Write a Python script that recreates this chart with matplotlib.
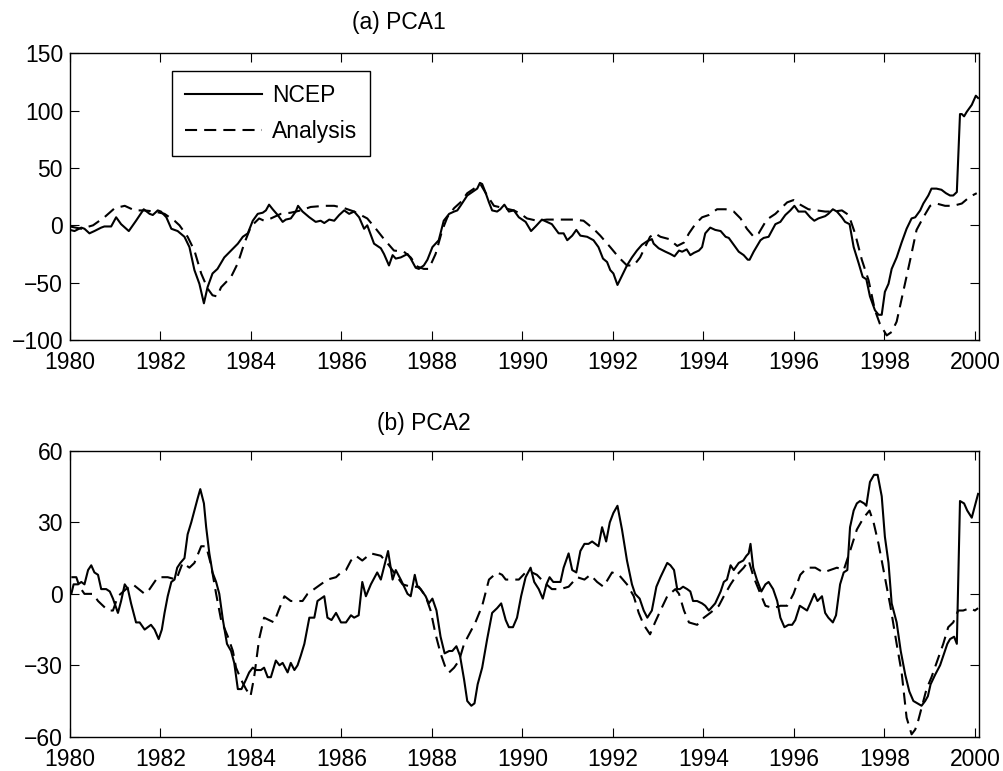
import numpy as np
import matplotlib
matplotlib.use("Agg")
import matplotlib.pyplot as plt

# ---- data (decimal year, value) ----
# (a) PCA1, NCEP (solid)
yr_a_ncep = [1980.00, 1980.10, 1980.25, 1980.32, 1980.43, 1980.54, 1980.69, 1980.76, 1980.91,
             1981.02, 1981.13, 1981.30, 1981.46, 1981.63, 1981.76, 1981.83, 1981.94, 1982.01,
             1982.13, 1982.24, 1982.38, 1982.53, 1982.64, 1982.75, 1982.86, 1982.96, 1983.04,
             1983.15, 1983.26, 1983.41, 1983.56, 1983.71, 1983.82, 1983.93, 1984.04, 1984.15,
             1984.26, 1984.33, 1984.40, 1984.48, 1984.59, 1984.70, 1984.77, 1984.88, 1984.99,
             1985.04, 1985.14, 1985.29, 1985.43, 1985.54, 1985.62, 1985.73, 1985.84, 1985.95,
             1986.06, 1986.17, 1986.28, 1986.39, 1986.50, 1986.57, 1986.72, 1986.87, 1986.94,
             1987.05, 1987.13, 1987.20, 1987.31, 1987.46, 1987.53, 1987.64, 1987.71, 1987.82,
             1987.90, 1988.01, 1988.15, 1988.26, 1988.38, 1988.49, 1988.56, 1988.63, 1988.78,
             1988.89, 1989.00, 1989.06, 1989.11, 1989.18, 1989.26, 1989.33, 1989.44, 1989.51,
             1989.60, 1989.70, 1989.81, 1989.92, 1990.07, 1990.19, 1990.29, 1990.43, 1990.54,
             1990.65, 1990.80, 1990.91, 1990.99, 1991.10, 1991.19, 1991.28, 1991.43, 1991.57,
             1991.68, 1991.78, 1991.87, 1991.94, 1992.01, 1992.10, 1992.20, 1992.31, 1992.42,
             1992.53, 1992.64, 1992.75, 1992.86, 1992.90, 1993.01, 1993.16, 1993.27, 1993.36,
             1993.46, 1993.53, 1993.63, 1993.71, 1993.79, 1993.90, 1993.97, 1994.04, 1994.15,
             1994.26, 1994.38, 1994.49, 1994.56, 1994.67, 1994.78, 1994.89, 1994.98, 1995.02,
             1995.11, 1995.26, 1995.33, 1995.44, 1995.59, 1995.70, 1995.81, 1995.92, 1996.01,
             1996.10, 1996.25, 1996.36, 1996.45, 1996.54, 1996.69, 1996.76, 1996.86, 1996.95,
             1997.06, 1997.13, 1997.23, 1997.32, 1997.43, 1997.52, 1997.60, 1997.68, 1997.79,
             1997.87, 1997.94, 1998.01, 1998.09, 1998.16, 1998.27, 1998.38, 1998.49, 1998.60,
             1998.68, 1998.79, 1998.86, 1998.97, 1999.04, 1999.15, 1999.26, 1999.36, 1999.45,
             1999.52, 1999.60, 1999.67, 1999.71, 1999.76, 1999.82, 1999.93, 2000.02, 2000.07]
pca1_ncep = [-4, -5, -2, -3, -7, -5, -2, -1, -1,
             7, 1, -5, 4, 14, 10, 9, 13, 12,
             7, -3, -5, -10, -19, -39, -51, -68, -54,
             -42, -38, -28, -22, -16, -10, -7, 4, 10,
             11, 13, 18, 14, 9, 3, 5, 6, 12,
             17, 12, 7, 3, 4, 2, 5, 4, 9,
             13, 10, 12, 7, -3, 0, -16, -20, -25,
             -35, -26, -29, -28, -25, -29, -37, -38, -35,
             -30, -19, -13, 4, 10, 12, 13, 17, 26,
             29, 32, 37, 36, 29, 20, 13, 12, 14,
             18, 12, 13, 7, 3, -5, -1, 5, 3,
             1, -7, -7, -13, -9, -4, -9, -10, -13,
             -19, -29, -32, -39, -42, -52, -44, -35, -28,
             -22, -17, -14, -12, -16, -20, -23, -25, -27,
             -22, -23, -21, -26, -24, -22, -19, -7, -2,
             -4, -5, -10, -11, -17, -23, -26, -30, -30,
             -23, -13, -11, -10, 1, 3, 9, 13, 17,
             12, 12, 7, 4, 6, 8, 10, 14, 12,
             7, 3, 1, -19, -33, -45, -47, -62, -74,
             -78, -78, -58, -51, -38, -28, -15, -3, 6,
             7, 13, 19, 26, 32, 32, 31, 28, 26,
             26, 29, 97, 97, 95, 99, 105, 113, 111]

# (a) PCA1, Analysis (dashed)
yr_a_ana = [1980.00, 1980.25, 1980.51, 1980.76, 1980.99, 1981.21, 1981.43, 1981.65, 1981.87,
            1982.09, 1982.31, 1982.42, 1982.60, 1982.75, 1982.90, 1983.04, 1983.15, 1983.25,
            1983.34, 1983.56, 1983.71, 1983.85, 1984.00, 1984.18, 1984.29, 1984.44, 1984.66,
            1984.88, 1985.10, 1985.32, 1985.62, 1985.84, 1986.06, 1986.28, 1986.57, 1986.76,
            1986.94, 1987.16, 1987.38, 1987.53, 1987.68, 1987.82, 1987.93, 1988.08, 1988.23,
            1988.34, 1988.49, 1988.63, 1988.78, 1988.93, 1989.07, 1989.22, 1989.37, 1989.59,
            1989.81, 1989.96, 1990.10, 1990.32, 1990.54, 1990.84, 1991.13, 1991.35, 1991.57,
            1991.72, 1991.94, 1992.13, 1992.31, 1992.46, 1992.60, 1992.82, 1992.93, 1993.05,
            1993.24, 1993.42, 1993.57, 1993.68, 1993.82, 1993.97, 1994.12, 1994.30, 1994.49,
            1994.67, 1994.82, 1994.96, 1995.11, 1995.22, 1995.40, 1995.59, 1995.85, 1995.99,
            1996.14, 1996.32, 1996.51, 1996.69, 1996.88, 1997.06, 1997.21, 1997.35, 1997.50,
            1997.65, 1997.79, 1997.90, 1998.05, 1998.16, 1998.27, 1998.42, 1998.57, 1998.71,
            1998.86, 1999.01, 1999.15, 1999.34, 1999.52, 1999.71, 1999.89, 2000.04]
pca1_ana = [-1, -3, 0, 7, 15, 17, 13, 13, 12,
            10, 4, 0, -10, -22, -42, -55, -61, -62,
            -54, -45, -33, -16, -1, 6, 4, 6, 10,
            11, 13, 16, 17, 17, 15, 12, 6, -3,
            -12, -22, -23, -28, -36, -38, -38, -25, -4,
            7, 15, 20, 28, 32, 36, 26, 17, 15,
            13, 10, 6, 4, 5, 5, 5, 4, -3,
            -9, -19, -28, -35, -35, -28, -10, -7, -10,
            -12, -18, -15, -7, 1, 7, 9, 14, 14,
            12, 6, -3, -10, -7, 5, 10, 20, 22,
            18, 14, 13, 12, 12, 13, 9, -7, -30,
            -48, -74, -86, -96, -93, -84, -57, -30, -4,
            7, 17, 19, 17, 17, 19, 25, 28]

# (b) PCA2, NCEP (solid)
yr_b_ncep = [1980.03, 1980.08, 1980.18, 1980.25, 1980.32, 1980.40, 1980.47, 1980.54, 1980.62,
             1980.69, 1980.80, 1980.88, 1980.95, 1981.06, 1981.13, 1981.21, 1981.28, 1981.35,
             1981.46, 1981.54, 1981.65, 1981.72, 1981.79, 1981.87, 1981.96, 1982.03, 1982.09,
             1982.16, 1982.24, 1982.31, 1982.37, 1982.44, 1982.53, 1982.60, 1982.68, 1982.75,
             1982.82, 1982.88, 1982.96, 1983.01, 1983.08, 1983.15, 1983.23, 1983.30, 1983.38,
             1983.47, 1983.56, 1983.63, 1983.71, 1983.79, 1983.89, 1983.96, 1984.04, 1984.11,
             1984.22, 1984.29, 1984.37, 1984.44, 1984.55, 1984.63, 1984.70, 1984.81, 1984.88,
             1984.96, 1985.03, 1985.10, 1985.18, 1985.29, 1985.40, 1985.47, 1985.62, 1985.69,
             1985.78, 1985.88, 1985.99, 1986.10, 1986.21, 1986.28, 1986.38, 1986.46, 1986.54,
             1986.65, 1986.79, 1986.87, 1987.03, 1987.13, 1987.20, 1987.31, 1987.46, 1987.53,
             1987.62, 1987.68, 1987.75, 1987.86, 1987.93, 1988.01, 1988.10, 1988.19, 1988.28,
             1988.38, 1988.45, 1988.54, 1988.62, 1988.71, 1988.78, 1988.87, 1988.94, 1989.01,
             1989.11, 1989.22, 1989.33, 1989.44, 1989.53, 1989.63, 1989.70, 1989.79, 1989.88,
             1989.97, 1990.07, 1990.18, 1990.26, 1990.36, 1990.45, 1990.53, 1990.60, 1990.68,
             1990.76, 1990.84, 1990.91, 1991.02, 1991.10, 1991.19, 1991.28, 1991.37, 1991.46,
             1991.54, 1991.61, 1991.68, 1991.76, 1991.85, 1991.93, 1992.01, 1992.10, 1992.20,
             1992.31, 1992.42, 1992.49, 1992.59, 1992.68, 1992.76, 1992.86, 1992.96, 1993.05,
             1993.20, 1993.27, 1993.35, 1993.42, 1993.48, 1993.55, 1993.64, 1993.71, 1993.77,
             1993.86, 1993.97, 1994.04, 1994.12, 1994.26, 1994.38, 1994.45, 1994.52, 1994.60,
             1994.67, 1994.78, 1994.88, 1994.95, 1995.00, 1995.04, 1995.10, 1995.18, 1995.28,
             1995.37, 1995.44, 1995.54, 1995.63, 1995.70, 1995.79, 1995.88, 1995.96, 1996.03,
             1996.13, 1996.21, 1996.29, 1996.36, 1996.45, 1996.52, 1996.62, 1996.69, 1996.76,
             1996.86, 1996.93, 1997.02, 1997.10, 1997.18, 1997.24, 1997.32, 1997.39, 1997.46,
             1997.55, 1997.60, 1997.68, 1997.77, 1997.85, 1997.94, 1998.01, 1998.09, 1998.16,
             1998.27, 1998.36, 1998.46, 1998.55, 1998.64, 1998.73, 1998.82, 1998.90, 1998.96,
             1999.02, 1999.12, 1999.23, 1999.32, 1999.39, 1999.45, 1999.54, 1999.60, 1999.67,
             1999.76, 1999.83, 1999.93, 2000.00, 2000.07]
pca2_ncep = [0, 4, 4, 5, 4, 10, 12, 9, 8,
             2, 2, 1, -2, -8, -3, 4, 2, -4,
             -12, -12, -15, -14, -13, -15, -19, -15, -8,
             -1, 5, 6, 11, 13, 15, 25, 30, 35,
             40, 44, 38, 28, 17, 9, 5, 0, -11,
             -21, -24, -29, -40, -40, -36, -33, -31, -32,
             -32, -31, -35, -35, -28, -30, -29, -33, -29,
             -32, -30, -26, -21, -10, -10, -3, -1, -10,
             -11, -8, -12, -12, -9, -10, -9, 5, -1,
             4, 9, 6, 18, 6, 10, 6, 0, -1,
             8, 3, 2, -1, -4, -2, -7, -18, -25,
             -24, -24, -22, -26, -36, -45, -47, -46, -38,
             -31, -19, -8, -6, -4, -11, -14, -14, -10,
             -1, 7, 11, 5, 2, -2, 4, 7, 5,
             5, 5, 11, 17, 10, 9, 18, 21, 21,
             22, 21, 20, 28, 22, 30, 34, 37, 27,
             14, 4, 0, -2, -7, -10, -7, 3, 7,
             13, 12, 10, 2, 2, 3, 2, 1, -3,
             -3, -4, -5, -7, -4, 1, 5, 6, 12,
             10, 13, 14, 16, 17, 21, 11, 6, 1,
             4, 5, 2, -3, -10, -14, -13, -13, -11,
             -5, -6, -7, -4, 0, -3, -1, -8, -10,
             -12, -9, 4, 9, 10, 28, 35, 38, 39,
             38, 37, 47, 50, 50, 41, 24, 13, -4,
             -12, -24, -34, -41, -45, -46, -47, -45, -43,
             -38, -34, -30, -25, -21, -19, -18, -21, 39,
             38, 35, 32, 37, 42]

# (b) PCA2, Analysis (dashed)
yr_b_ana = [1980.03, 1980.14, 1980.21, 1980.32, 1980.51, 1980.62, 1980.84, 1980.95, 1981.06,
            1981.24, 1981.39, 1981.65, 1981.76, 1981.94, 1982.16, 1982.35, 1982.49, 1982.64,
            1982.75, 1982.90, 1983.01, 1983.12, 1983.23, 1983.34, 1983.49, 1983.60, 1983.67,
            1983.78, 1983.89, 1983.99, 1984.07, 1984.18, 1984.29, 1984.40, 1984.51, 1984.63,
            1984.74, 1984.88, 1985.03, 1985.14, 1985.25, 1985.47, 1985.69, 1985.88, 1985.99,
            1986.10, 1986.21, 1986.32, 1986.46, 1986.65, 1986.87, 1987.01, 1987.16, 1987.35,
            1987.53, 1987.71, 1987.86, 1987.97, 1988.08, 1988.19, 1988.30, 1988.38, 1988.49,
            1988.60, 1988.71, 1988.82, 1988.96, 1989.11, 1989.26, 1989.44, 1989.55, 1989.63,
            1989.77, 1989.92, 1990.07, 1990.21, 1990.32, 1990.47, 1990.65, 1990.84, 1991.02,
            1991.21, 1991.37, 1991.50, 1991.65, 1991.79, 1991.98, 1992.13, 1992.31, 1992.46,
            1992.57, 1992.68, 1992.82, 1992.93, 1993.05, 1993.20, 1993.38, 1993.46, 1993.57,
            1993.68, 1993.86, 1994.01, 1994.15, 1994.34, 1994.45, 1994.60, 1994.74, 1994.89,
            1995.00, 1995.11, 1995.26, 1995.37, 1995.55, 1995.70, 1995.85, 1995.99, 1996.14,
            1996.29, 1996.47, 1996.65, 1996.80, 1996.95, 1997.10, 1997.24, 1997.39, 1997.54,
            1997.67, 1997.76, 1997.87, 1997.98, 1998.13, 1998.27, 1998.38, 1998.49, 1998.60,
            1998.68, 1998.75, 1998.86, 1998.93, 1999.04, 1999.19, 1999.30, 1999.41, 1999.52,
            1999.63, 1999.74, 1999.89, 2000.00, 2000.07]
pca2_ana = [7, 7, 3, 0, 0, -3, -7, -7, -1,
            2, 4, 0, 2, 7, 7, 6, 13, 11,
            13, 20, 20, 12, 0, -11, -18, -24, -31,
            -36, -40, -43, -35, -19, -10, -11, -12, -6,
            -1, -3, -3, -3, 0, 3, 6, 7, 9,
            10, 14, 16, 14, 17, 16, 13, 9, 4,
            3, 3, -1, -7, -17, -25, -31, -33, -31,
            -28, -21, -17, -12, -5, 6, 9, 8, 6,
            6, 6, 9, 9, 8, 5, 2, 2, 3,
            7, 6, 8, 5, 3, 9, 8, 4, -1,
            -8, -13, -17, -12, -7, -1, 2, 0, -7,
            -12, -13, -10, -8, -5, -1, 4, 8, 11,
            14, 7, 0, -5, -6, -5, -5, 0, 8,
            11, 11, 9, 10, 11, 10, 18, 27, 32,
            35, 30, 21, 10, -5, -21, -33, -52, -59,
            -57, -53, -45, -40, -35, -27, -21, -14, -12,
            -7, -7, -6, -7, -6]

x_ticks = [1980, 1982, 1984, 1986, 1988, 1990, 1992, 1994, 1996, 1998, 2000]
y_ticks_a = [-100, -50, 0, 50, 100, 150]
y_ticks_b = [-60, -30, 0, 30, 60]

plt.rcParams.update({
    "font.family": ["Liberation Sans", "DejaVu Sans"],
    "font.size": 16.5,
    "axes.linewidth": 1.0,
    "xtick.direction": "in",
    "ytick.direction": "in",
    "xtick.major.size": 6.5,
    "ytick.major.size": 6.5,
    "xtick.major.width": 0.8,
    "ytick.major.width": 0.8,
    "xtick.top": True,
    "ytick.right": True,
    "axes.unicode_minus": True,
})

fig = plt.figure(figsize=(10.04, 7.71), dpi=100)
ax1 = fig.add_axes([0.0697, 0.559, 0.9054, 0.3719])
ax2 = fig.add_axes([0.0697, 0.0445, 0.9054, 0.3705])

dash = (5.8, 3.4)
lw = 1.5

ax1.plot(yr_a_ncep, pca1_ncep, color="k", lw=lw, label="NCEP")
ax1.plot(yr_a_ana, pca1_ana, color="k", lw=lw, dashes=dash, label="Analysis")
ax2.plot(yr_b_ncep, pca2_ncep, color="k", lw=lw)
ax2.plot(yr_b_ana, pca2_ana, color="k", lw=lw, dashes=dash)

for ax, yt in ((ax1, y_ticks_a), (ax2, y_ticks_b)):
    ax.set_xlim(1980, 2000.09)
    ax.set_ylim(yt[0], yt[-1])
    ax.set_xticks(x_ticks)
    ax.set_yticks(yt)
    ax.tick_params(axis="x", pad=8)
    ax.tick_params(axis="y", pad=5)

leg = ax1.legend(loc="upper left", bbox_to_anchor=(0.1122, 0.938),
                 fancybox=False, edgecolor="k", framealpha=1,
                 handlelength=3.36, handletextpad=0.44, labelspacing=0.6,
                 borderpad=0.55, borderaxespad=0)
leg.get_frame().set_linewidth(1.0)

fig.text(399 / 1004, 1 - 23 / 771, "(a) PCA1", ha="center", va="center")
fig.text(424 / 1004, 1 - 423 / 771, "(b) PCA2", ha="center", va="center")

fig.savefig("out.png", dpi=100)
